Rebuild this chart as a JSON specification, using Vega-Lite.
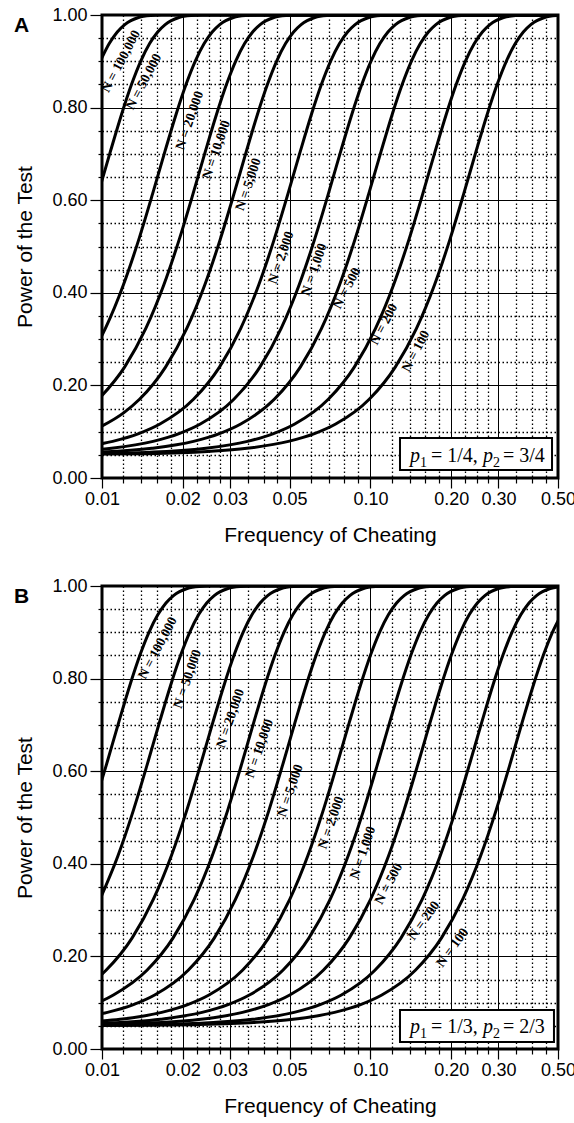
{
"$schema": "https://vega.github.io/schema/vega-lite/v6.json",
"autosize": {"type": "pad"},
"padding": {"left": 12, "top": 4, "right": 0, "bottom": 0},
"spacing": 108,
"bounds": "flush",
"background": "white",
"datasets": {
"curves": [
{"panel":"A","N":"100000","c":0.00988,"power":0.9015},{"panel":"A","N":"100000","c":0.01064,"power":0.9382},{"panel":"A","N":"100000","c":0.0114,"power":0.9633},{"panel":"A","N":"100000","c":0.01216,"power":0.9793},{"panel":"A","N":"100000","c":0.01368,"power":0.9945},{"panel":"A","N":"100000","c":0.0152,"power":0.9988},{"panel":"A","N":"100000","c":0.01672,"power":0.9998},{"panel":"A","N":"100000","c":0.01824,"power":1},{"panel":"A","N":"100000","c":0.5,"power":1},
{"panel":"A","N":"50000","c":0.009673,"power":0.6141},{"panel":"A","N":"50000","c":0.010748,"power":0.7054},{"panel":"A","N":"50000","c":0.011823,"power":0.7852},{"panel":"A","N":"50000","c":0.012898,"power":0.8508},{"panel":"A","N":"50000","c":0.013973,"power":0.9015},{"panel":"A","N":"50000","c":0.015047,"power":0.9382},{"panel":"A","N":"50000","c":0.016122,"power":0.9633},{"panel":"A","N":"50000","c":0.017197,"power":0.9793},{"panel":"A","N":"50000","c":0.019347,"power":0.9945},{"panel":"A","N":"50000","c":0.021496,"power":0.9988},{"panel":"A","N":"50000","c":0.023646,"power":0.9998},{"panel":"A","N":"50000","c":0.025795,"power":1},{"panel":"A","N":"50000","c":0.5,"power":1},
{"panel":"A","N":"20000","c":0.008579,"power":0.2396},{"panel":"A","N":"20000","c":0.010295,"power":0.3231},{"panel":"A","N":"20000","c":0.012011,"power":0.4169},{"panel":"A","N":"20000","c":0.013727,"power":0.516},{"panel":"A","N":"20000","c":0.015443,"power":0.6141},{"panel":"A","N":"20000","c":0.017159,"power":0.7054},{"panel":"A","N":"20000","c":0.018874,"power":0.7852},{"panel":"A","N":"20000","c":0.02059,"power":0.8508},{"panel":"A","N":"20000","c":0.022306,"power":0.9015},{"panel":"A","N":"20000","c":0.024022,"power":0.9382},{"panel":"A","N":"20000","c":0.025738,"power":0.9633},{"panel":"A","N":"20000","c":0.027454,"power":0.9793},{"panel":"A","N":"20000","c":0.030885,"power":0.9945},{"panel":"A","N":"20000","c":0.034317,"power":0.9988},{"panel":"A","N":"20000","c":0.037749,"power":0.9998},{"panel":"A","N":"20000","c":0.04118,"power":1},{"panel":"A","N":"20000","c":0.5,"power":1},
{"panel":"A","N":"10000","c":0.009709,"power":0.17},{"panel":"A","N":"10000","c":0.012136,"power":0.2396},{"panel":"A","N":"10000","c":0.014563,"power":0.3231},{"panel":"A","N":"10000","c":0.01699,"power":0.4169},{"panel":"A","N":"10000","c":0.019417,"power":0.516},{"panel":"A","N":"10000","c":0.021845,"power":0.6141},{"panel":"A","N":"10000","c":0.024272,"power":0.7054},{"panel":"A","N":"10000","c":0.026699,"power":0.7852},{"panel":"A","N":"10000","c":0.029126,"power":0.8508},{"panel":"A","N":"10000","c":0.031553,"power":0.9015},{"panel":"A","N":"10000","c":0.033981,"power":0.9382},{"panel":"A","N":"10000","c":0.036408,"power":0.9633},{"panel":"A","N":"10000","c":0.038835,"power":0.9793},{"panel":"A","N":"10000","c":0.043689,"power":0.9945},{"panel":"A","N":"10000","c":0.048544,"power":0.9988},{"panel":"A","N":"10000","c":0.053398,"power":0.9998},{"panel":"A","N":"10000","c":0.058252,"power":1},{"panel":"A","N":"10000","c":0.5,"power":1},
{"panel":"A","N":"5000","c":0.009658,"power":0.1077},{"panel":"A","N":"5000","c":0.012072,"power":0.1413},{"panel":"A","N":"5000","c":0.013797,"power":0.17},{"panel":"A","N":"5000","c":0.017246,"power":0.2396},{"panel":"A","N":"5000","c":0.020695,"power":0.3231},{"panel":"A","N":"5000","c":0.024145,"power":0.4169},{"panel":"A","N":"5000","c":0.027594,"power":0.516},{"panel":"A","N":"5000","c":0.031043,"power":0.6141},{"panel":"A","N":"5000","c":0.034492,"power":0.7054},{"panel":"A","N":"5000","c":0.037942,"power":0.7852},{"panel":"A","N":"5000","c":0.041391,"power":0.8508},{"panel":"A","N":"5000","c":0.04484,"power":0.9015},{"panel":"A","N":"5000","c":0.048289,"power":0.9382},{"panel":"A","N":"5000","c":0.051738,"power":0.9633},{"panel":"A","N":"5000","c":0.055188,"power":0.9793},{"panel":"A","N":"5000","c":0.062086,"power":0.9945},{"panel":"A","N":"5000","c":0.068985,"power":0.9988},{"panel":"A","N":"5000","c":0.075883,"power":0.9998},{"panel":"A","N":"5000","c":0.082781,"power":1},{"panel":"A","N":"5000","c":0.5,"power":1},
{"panel":"A","N":"2000","c":0.008768,"power":0.0685},{"panel":"A","N":"2000","c":0.01096,"power":0.0791},{"panel":"A","N":"2000","c":0.0137,"power":0.0958},{"panel":"A","N":"2000","c":0.01644,"power":0.1165},{"panel":"A","N":"2000","c":0.02192,"power":0.17},{"panel":"A","N":"2000","c":0.0274,"power":0.2396},{"panel":"A","N":"2000","c":0.03288,"power":0.3231},{"panel":"A","N":"2000","c":0.03836,"power":0.4169},{"panel":"A","N":"2000","c":0.04384,"power":0.516},{"panel":"A","N":"2000","c":0.04932,"power":0.6141},{"panel":"A","N":"2000","c":0.0548,"power":0.7054},{"panel":"A","N":"2000","c":0.06028,"power":0.7852},{"panel":"A","N":"2000","c":0.06576,"power":0.8508},{"panel":"A","N":"2000","c":0.07124,"power":0.9015},{"panel":"A","N":"2000","c":0.07672,"power":0.9382},{"panel":"A","N":"2000","c":0.0822,"power":0.9633},{"panel":"A","N":"2000","c":0.08768,"power":0.9793},{"panel":"A","N":"2000","c":0.09864,"power":0.9945},{"panel":"A","N":"2000","c":0.1096,"power":0.9988},{"panel":"A","N":"2000","c":0.12056,"power":0.9998},{"panel":"A","N":"2000","c":0.13152,"power":1},{"panel":"A","N":"2000","c":0.5,"power":1},
{"panel":"A","N":"1000","c":0.00775,"power":0.0572},{"panel":"A","N":"1000","c":0.010849,"power":0.0641},{"panel":"A","N":"1000","c":0.0155,"power":0.0791},{"panel":"A","N":"1000","c":0.019374,"power":0.0958},{"panel":"A","N":"1000","c":0.02325,"power":0.1165},{"panel":"A","N":"1000","c":0.031,"power":0.17},{"panel":"A","N":"1000","c":0.03875,"power":0.2396},{"panel":"A","N":"1000","c":0.0465,"power":0.3231},{"panel":"A","N":"1000","c":0.05425,"power":0.4169},{"panel":"A","N":"1000","c":0.062,"power":0.516},{"panel":"A","N":"1000","c":0.06975,"power":0.6141},{"panel":"A","N":"1000","c":0.0775,"power":0.7054},{"panel":"A","N":"1000","c":0.08525,"power":0.7852},{"panel":"A","N":"1000","c":0.093,"power":0.8508},{"panel":"A","N":"1000","c":0.10074,"power":0.9015},{"panel":"A","N":"1000","c":0.10849,"power":0.9382},{"panel":"A","N":"1000","c":0.11624,"power":0.9633},{"panel":"A","N":"1000","c":0.12399,"power":0.9793},{"panel":"A","N":"1000","c":0.13949,"power":0.9945},{"panel":"A","N":"1000","c":0.15499,"power":0.9988},{"panel":"A","N":"1000","c":0.17049,"power":0.9998},{"panel":"A","N":"1000","c":0.18599,"power":1},{"panel":"A","N":"1000","c":0.5,"power":1},
{"panel":"A","N":"500","c":0.008768,"power":0.0546},{"panel":"A","N":"500","c":0.015344,"power":0.0641},{"panel":"A","N":"500","c":0.02192,"power":0.0791},{"panel":"A","N":"500","c":0.0274,"power":0.0958},{"panel":"A","N":"500","c":0.03288,"power":0.1165},{"panel":"A","N":"500","c":0.04384,"power":0.17},{"panel":"A","N":"500","c":0.0548,"power":0.2396},{"panel":"A","N":"500","c":0.06576,"power":0.3231},{"panel":"A","N":"500","c":0.07672,"power":0.4169},{"panel":"A","N":"500","c":0.08768,"power":0.516},{"panel":"A","N":"500","c":0.09864,"power":0.6141},{"panel":"A","N":"500","c":0.1096,"power":0.7054},{"panel":"A","N":"500","c":0.12056,"power":0.7852},{"panel":"A","N":"500","c":0.13152,"power":0.8508},{"panel":"A","N":"500","c":0.14248,"power":0.9015},{"panel":"A","N":"500","c":0.15344,"power":0.9382},{"panel":"A","N":"500","c":0.1644,"power":0.9633},{"panel":"A","N":"500","c":0.17536,"power":0.9793},{"panel":"A","N":"500","c":0.19728,"power":0.9945},{"panel":"A","N":"500","c":0.2192,"power":0.9988},{"panel":"A","N":"500","c":0.24112,"power":0.9998},{"panel":"A","N":"500","c":0.26304,"power":1},{"panel":"A","N":"500","c":0.5,"power":1},
{"panel":"A","N":"200","c":0.006969,"power":0.0511},{"panel":"A","N":"200","c":0.017422,"power":0.0572},{"panel":"A","N":"200","c":0.02439,"power":0.0641},{"panel":"A","N":"200","c":0.034843,"power":0.0791},{"panel":"A","N":"200","c":0.043554,"power":0.0958},{"panel":"A","N":"200","c":0.052265,"power":0.1165},{"panel":"A","N":"200","c":0.069686,"power":0.17},{"panel":"A","N":"200","c":0.087108,"power":0.2396},{"panel":"A","N":"200","c":0.10453,"power":0.3231},{"panel":"A","N":"200","c":0.12195,"power":0.4169},{"panel":"A","N":"200","c":0.13937,"power":0.516},{"panel":"A","N":"200","c":0.15679,"power":0.6141},{"panel":"A","N":"200","c":0.17422,"power":0.7054},{"panel":"A","N":"200","c":0.19164,"power":0.7852},{"panel":"A","N":"200","c":0.20906,"power":0.8508},{"panel":"A","N":"200","c":0.22648,"power":0.9015},{"panel":"A","N":"200","c":0.2439,"power":0.9382},{"panel":"A","N":"200","c":0.26132,"power":0.9633},{"panel":"A","N":"200","c":0.27874,"power":0.9793},{"panel":"A","N":"200","c":0.31359,"power":0.9945},{"panel":"A","N":"200","c":0.34843,"power":0.9988},{"panel":"A","N":"200","c":0.38328,"power":0.9998},{"panel":"A","N":"200","c":0.41812,"power":1},{"panel":"A","N":"200","c":0.5,"power":1},
{"panel":"A","N":"100","c":0.00495,"power":0.0503},{"panel":"A","N":"100","c":0.014851,"power":0.0526},{"panel":"A","N":"100","c":0.024752,"power":0.0572},{"panel":"A","N":"100","c":0.034653,"power":0.0641},{"panel":"A","N":"100","c":0.049505,"power":0.0791},{"panel":"A","N":"100","c":0.061881,"power":0.0958},{"panel":"A","N":"100","c":0.074257,"power":0.1165},{"panel":"A","N":"100","c":0.09901,"power":0.17},{"panel":"A","N":"100","c":0.12376,"power":0.2396},{"panel":"A","N":"100","c":0.14851,"power":0.3231},{"panel":"A","N":"100","c":0.17327,"power":0.4169},{"panel":"A","N":"100","c":0.19802,"power":0.516},{"panel":"A","N":"100","c":0.22277,"power":0.6141},{"panel":"A","N":"100","c":0.24752,"power":0.7054},{"panel":"A","N":"100","c":0.27228,"power":0.7852},{"panel":"A","N":"100","c":0.29703,"power":0.8508},{"panel":"A","N":"100","c":0.32178,"power":0.9015},{"panel":"A","N":"100","c":0.34653,"power":0.9382},{"panel":"A","N":"100","c":0.37129,"power":0.9633},{"panel":"A","N":"100","c":0.39604,"power":0.9793},{"panel":"A","N":"100","c":0.44554,"power":0.9945},{"panel":"A","N":"100","c":0.49505,"power":0.9988},{"panel":"A","N":"100","c":0.54455,"power":0.9998},
{"panel":"B","N":"100000","c":0.009234,"power":0.516},{"panel":"B","N":"100000","c":0.010388,"power":0.6141},{"panel":"B","N":"100000","c":0.011542,"power":0.7054},{"panel":"B","N":"100000","c":0.012696,"power":0.7852},{"panel":"B","N":"100000","c":0.01385,"power":0.8508},{"panel":"B","N":"100000","c":0.015005,"power":0.9015},{"panel":"B","N":"100000","c":0.016159,"power":0.9382},{"panel":"B","N":"100000","c":0.017313,"power":0.9633},{"panel":"B","N":"100000","c":0.018467,"power":0.9793},{"panel":"B","N":"100000","c":0.020776,"power":0.9945},{"panel":"B","N":"100000","c":0.023084,"power":0.9988},{"panel":"B","N":"100000","c":0.025392,"power":0.9998},{"panel":"B","N":"100000","c":0.027701,"power":1},{"panel":"B","N":"100000","c":0.5,"power":1},
{"panel":"B","N":"50000","c":0.009823,"power":0.3231},{"panel":"B","N":"50000","c":0.01146,"power":0.4169},{"panel":"B","N":"50000","c":0.013098,"power":0.516},{"panel":"B","N":"50000","c":0.014735,"power":0.6141},{"panel":"B","N":"50000","c":0.016372,"power":0.7054},{"panel":"B","N":"50000","c":0.018009,"power":0.7852},{"panel":"B","N":"50000","c":0.019646,"power":0.8508},{"panel":"B","N":"50000","c":0.021284,"power":0.9015},{"panel":"B","N":"50000","c":0.022921,"power":0.9382},{"panel":"B","N":"50000","c":0.024558,"power":0.9633},{"panel":"B","N":"50000","c":0.026195,"power":0.9793},{"panel":"B","N":"50000","c":0.02947,"power":0.9945},{"panel":"B","N":"50000","c":0.032744,"power":0.9988},{"panel":"B","N":"50000","c":0.036018,"power":0.9998},{"panel":"B","N":"50000","c":0.039293,"power":1},{"panel":"B","N":"50000","c":0.5,"power":1},
{"panel":"B","N":"20000","c":0.007764,"power":0.1165},{"panel":"B","N":"20000","c":0.010352,"power":0.17},{"panel":"B","N":"20000","c":0.01294,"power":0.2396},{"panel":"B","N":"20000","c":0.015528,"power":0.3231},{"panel":"B","N":"20000","c":0.018116,"power":0.4169},{"panel":"B","N":"20000","c":0.020704,"power":0.516},{"panel":"B","N":"20000","c":0.023292,"power":0.6141},{"panel":"B","N":"20000","c":0.02588,"power":0.7054},{"panel":"B","N":"20000","c":0.028468,"power":0.7852},{"panel":"B","N":"20000","c":0.031056,"power":0.8508},{"panel":"B","N":"20000","c":0.033644,"power":0.9015},{"panel":"B","N":"20000","c":0.036232,"power":0.9382},{"panel":"B","N":"20000","c":0.03882,"power":0.9633},{"panel":"B","N":"20000","c":0.041408,"power":0.9793},{"panel":"B","N":"20000","c":0.046584,"power":0.9945},{"panel":"B","N":"20000","c":0.05176,"power":0.9988},{"panel":"B","N":"20000","c":0.056936,"power":0.9998},{"panel":"B","N":"20000","c":0.062112,"power":1},{"panel":"B","N":"20000","c":0.5,"power":1},
{"panel":"B","N":"10000","c":0.007353,"power":0.0791},{"panel":"B","N":"10000","c":0.011029,"power":0.1165},{"panel":"B","N":"10000","c":0.014706,"power":0.17},{"panel":"B","N":"10000","c":0.018382,"power":0.2396},{"panel":"B","N":"10000","c":0.022059,"power":0.3231},{"panel":"B","N":"10000","c":0.025735,"power":0.4169},{"panel":"B","N":"10000","c":0.029412,"power":0.516},{"panel":"B","N":"10000","c":0.033088,"power":0.6141},{"panel":"B","N":"10000","c":0.036765,"power":0.7054},{"panel":"B","N":"10000","c":0.040441,"power":0.7852},{"panel":"B","N":"10000","c":0.044118,"power":0.8508},{"panel":"B","N":"10000","c":0.047794,"power":0.9015},{"panel":"B","N":"10000","c":0.051471,"power":0.9382},{"panel":"B","N":"10000","c":0.055147,"power":0.9633},{"panel":"B","N":"10000","c":0.058824,"power":0.9793},{"panel":"B","N":"10000","c":0.066176,"power":0.9945},{"panel":"B","N":"10000","c":0.073529,"power":0.9988},{"panel":"B","N":"10000","c":0.080882,"power":0.9998},{"panel":"B","N":"10000","c":0.088235,"power":1},{"panel":"B","N":"10000","c":0.5,"power":1},
{"panel":"B","N":"5000","c":0.00838,"power":0.0685},{"panel":"B","N":"5000","c":0.010476,"power":0.0791},{"panel":"B","N":"5000","c":0.013095,"power":0.0958},{"panel":"B","N":"5000","c":0.015713,"power":0.1165},{"panel":"B","N":"5000","c":0.020951,"power":0.17},{"panel":"B","N":"5000","c":0.026189,"power":0.2396},{"panel":"B","N":"5000","c":0.031427,"power":0.3231},{"panel":"B","N":"5000","c":0.036664,"power":0.4169},{"panel":"B","N":"5000","c":0.041902,"power":0.516},{"panel":"B","N":"5000","c":0.04714,"power":0.6141},{"panel":"B","N":"5000","c":0.052378,"power":0.7054},{"panel":"B","N":"5000","c":0.057615,"power":0.7852},{"panel":"B","N":"5000","c":0.062853,"power":0.8508},{"panel":"B","N":"5000","c":0.068091,"power":0.9015},{"panel":"B","N":"5000","c":0.073329,"power":0.9382},{"panel":"B","N":"5000","c":0.078566,"power":0.9633},{"panel":"B","N":"5000","c":0.083804,"power":0.9793},{"panel":"B","N":"5000","c":0.09428,"power":0.9945},{"panel":"B","N":"5000","c":0.10476,"power":0.9988},{"panel":"B","N":"5000","c":0.11523,"power":0.9998},{"panel":"B","N":"5000","c":0.12571,"power":1},{"panel":"B","N":"5000","c":0.5,"power":1},
{"panel":"B","N":"2000","c":0.008344,"power":0.0572},{"panel":"B","N":"2000","c":0.011682,"power":0.0641},{"panel":"B","N":"2000","c":0.016689,"power":0.0791},{"panel":"B","N":"2000","c":0.020861,"power":0.0958},{"panel":"B","N":"2000","c":0.025033,"power":0.1165},{"panel":"B","N":"2000","c":0.033378,"power":0.17},{"panel":"B","N":"2000","c":0.041722,"power":0.2396},{"panel":"B","N":"2000","c":0.050067,"power":0.3231},{"panel":"B","N":"2000","c":0.058411,"power":0.4169},{"panel":"B","N":"2000","c":0.066756,"power":0.516},{"panel":"B","N":"2000","c":0.0751,"power":0.6141},{"panel":"B","N":"2000","c":0.083445,"power":0.7054},{"panel":"B","N":"2000","c":0.091789,"power":0.7852},{"panel":"B","N":"2000","c":0.10013,"power":0.8508},{"panel":"B","N":"2000","c":0.10848,"power":0.9015},{"panel":"B","N":"2000","c":0.11682,"power":0.9382},{"panel":"B","N":"2000","c":0.12517,"power":0.9633},{"panel":"B","N":"2000","c":0.13351,"power":0.9793},{"panel":"B","N":"2000","c":0.1502,"power":0.9945},{"panel":"B","N":"2000","c":0.16689,"power":0.9988},{"panel":"B","N":"2000","c":0.18358,"power":0.9998},{"panel":"B","N":"2000","c":0.20027,"power":1},{"panel":"B","N":"2000","c":0.5,"power":1},
{"panel":"B","N":"1000","c":0.009438,"power":0.0546},{"panel":"B","N":"1000","c":0.016517,"power":0.0641},{"panel":"B","N":"1000","c":0.023596,"power":0.0791},{"panel":"B","N":"1000","c":0.029495,"power":0.0958},{"panel":"B","N":"1000","c":0.035394,"power":0.1165},{"panel":"B","N":"1000","c":0.047192,"power":0.17},{"panel":"B","N":"1000","c":0.05899,"power":0.2396},{"panel":"B","N":"1000","c":0.070788,"power":0.3231},{"panel":"B","N":"1000","c":0.082586,"power":0.4169},{"panel":"B","N":"1000","c":0.094384,"power":0.516},{"panel":"B","N":"1000","c":0.10618,"power":0.6141},{"panel":"B","N":"1000","c":0.11798,"power":0.7054},{"panel":"B","N":"1000","c":0.12978,"power":0.7852},{"panel":"B","N":"1000","c":0.14158,"power":0.8508},{"panel":"B","N":"1000","c":0.15337,"power":0.9015},{"panel":"B","N":"1000","c":0.16517,"power":0.9382},{"panel":"B","N":"1000","c":0.17697,"power":0.9633},{"panel":"B","N":"1000","c":0.18877,"power":0.9793},{"panel":"B","N":"1000","c":0.21236,"power":0.9945},{"panel":"B","N":"1000","c":0.23596,"power":0.9988},{"panel":"B","N":"1000","c":0.25956,"power":0.9998},{"panel":"B","N":"1000","c":0.28315,"power":1},{"panel":"B","N":"1000","c":0.5,"power":1},
{"panel":"B","N":"500","c":0.006676,"power":0.0511},{"panel":"B","N":"500","c":0.016689,"power":0.0572},{"panel":"B","N":"500","c":0.023365,"power":0.0641},{"panel":"B","N":"500","c":0.033378,"power":0.0791},{"panel":"B","N":"500","c":0.041722,"power":0.0958},{"panel":"B","N":"500","c":0.050067,"power":0.1165},{"panel":"B","N":"500","c":0.066756,"power":0.17},{"panel":"B","N":"500","c":0.083445,"power":0.2396},{"panel":"B","N":"500","c":0.10013,"power":0.3231},{"panel":"B","N":"500","c":0.11682,"power":0.4169},{"panel":"B","N":"500","c":0.13351,"power":0.516},{"panel":"B","N":"500","c":0.1502,"power":0.6141},{"panel":"B","N":"500","c":0.16689,"power":0.7054},{"panel":"B","N":"500","c":0.18358,"power":0.7852},{"panel":"B","N":"500","c":0.20027,"power":0.8508},{"panel":"B","N":"500","c":0.21696,"power":0.9015},{"panel":"B","N":"500","c":0.23365,"power":0.9382},{"panel":"B","N":"500","c":0.25033,"power":0.9633},{"panel":"B","N":"500","c":0.26702,"power":0.9793},{"panel":"B","N":"500","c":0.3004,"power":0.9945},{"panel":"B","N":"500","c":0.33378,"power":0.9988},{"panel":"B","N":"500","c":0.36716,"power":0.9998},{"panel":"B","N":"500","c":0.40053,"power":1},{"panel":"B","N":"500","c":0.5,"power":1},
{"panel":"B","N":"200","c":0.005198,"power":0.0503},{"panel":"B","N":"200","c":0.015593,"power":0.0526},{"panel":"B","N":"200","c":0.025988,"power":0.0572},{"panel":"B","N":"200","c":0.036383,"power":0.0641},{"panel":"B","N":"200","c":0.051975,"power":0.0791},{"panel":"B","N":"200","c":0.064969,"power":0.0958},{"panel":"B","N":"200","c":0.077963,"power":0.1165},{"panel":"B","N":"200","c":0.10395,"power":0.17},{"panel":"B","N":"200","c":0.12994,"power":0.2396},{"panel":"B","N":"200","c":0.15593,"power":0.3231},{"panel":"B","N":"200","c":0.18191,"power":0.4169},{"panel":"B","N":"200","c":0.2079,"power":0.516},{"panel":"B","N":"200","c":0.23389,"power":0.6141},{"panel":"B","N":"200","c":0.25988,"power":0.7054},{"panel":"B","N":"200","c":0.28586,"power":0.7852},{"panel":"B","N":"200","c":0.31185,"power":0.8508},{"panel":"B","N":"200","c":0.33784,"power":0.9015},{"panel":"B","N":"200","c":0.36383,"power":0.9382},{"panel":"B","N":"200","c":0.38981,"power":0.9633},{"panel":"B","N":"200","c":0.4158,"power":0.9793},{"panel":"B","N":"200","c":0.46778,"power":0.9945},{"panel":"B","N":"200","c":0.51975,"power":0.9988},
{"panel":"B","N":"100","c":0.007353,"power":0.0503},{"panel":"B","N":"100","c":0.014706,"power":0.0511},{"panel":"B","N":"100","c":0.022059,"power":0.0526},{"panel":"B","N":"100","c":0.036765,"power":0.0572},{"panel":"B","N":"100","c":0.051471,"power":0.0641},{"panel":"B","N":"100","c":0.073529,"power":0.0791},{"panel":"B","N":"100","c":0.091912,"power":0.0958},{"panel":"B","N":"100","c":0.11029,"power":0.1165},{"panel":"B","N":"100","c":0.14706,"power":0.17},{"panel":"B","N":"100","c":0.18382,"power":0.2396},{"panel":"B","N":"100","c":0.22059,"power":0.3231},{"panel":"B","N":"100","c":0.25735,"power":0.4169},{"panel":"B","N":"100","c":0.29412,"power":0.516},{"panel":"B","N":"100","c":0.33088,"power":0.6141},{"panel":"B","N":"100","c":0.36765,"power":0.7054},{"panel":"B","N":"100","c":0.40441,"power":0.7852},{"panel":"B","N":"100","c":0.44118,"power":0.8508},{"panel":"B","N":"100","c":0.47794,"power":0.9015},{"panel":"B","N":"100","c":0.51471,"power":0.9382}
],
"labels": [
{"panel":"A","label":"N = 100,000","c":0.01176,"power":0.9},
{"panel":"A","label":"N = 50,000","c":0.01432,"power":0.856},
{"panel":"A","label":"N = 20,000","c":0.0212,"power":0.772},
{"panel":"A","label":"N = 10,000","c":0.0267,"power":0.709},
{"panel":"A","label":"N = 5,000","c":0.0351,"power":0.634},
{"panel":"A","label":"N = 2,000","c":0.0465,"power":0.476},
{"panel":"A","label":"N = 1,000","c":0.0617,"power":0.45},
{"panel":"A","label":"N = 500","c":0.0817,"power":0.41},
{"panel":"A","label":"N = 200","c":0.1122,"power":0.332},
{"panel":"A","label":"N = 100","c":0.1476,"power":0.274},
{"panel":"B","label":"N = 100,000","c":0.01613,"power":0.866},
{"panel":"B","label":"N = 50,000","c":0.0208,"power":0.799},
{"panel":"B","label":"N = 20,000","c":0.0301,"power":0.714},
{"panel":"B","label":"N = 10,000","c":0.0386,"power":0.649},
{"panel":"B","label":"N = 5,000","c":0.0503,"power":0.558},
{"panel":"B","label":"N = 2,000","c":0.0714,"power":0.489},
{"panel":"B","label":"N = 1,000","c":0.0937,"power":0.424},
{"panel":"B","label":"N = 500","c":0.117,"power":0.357},
{"panel":"B","label":"N = 200","c":0.158,"power":0.277},
{"panel":"B","label":"N = 100","c":0.202,"power":0.219}
],
"legend": [
{"panel":"A","part":"p","c":0.1405,"power":0.035,"t":"p"},
{"panel":"A","part":"sub","c":0.1531,"power":0.035,"t":"1"},
{"panel":"A","part":"rest","c":0.1682,"power":0.035,"t":"= 1/4,"},
{"panel":"A","part":"p","c":0.2628,"power":0.035,"t":"p"},
{"panel":"A","part":"sub","c":0.2863,"power":0.035,"t":"2"},
{"panel":"A","part":"rest","c":0.312,"power":0.035,"t":"= 3/4"},
{"panel":"B","part":"p","c":0.1405,"power":0.035,"t":"p"},
{"panel":"B","part":"sub","c":0.1531,"power":0.035,"t":"1"},
{"panel":"B","part":"rest","c":0.1682,"power":0.035,"t":"= 1/3,"},
{"panel":"B","part":"p","c":0.2628,"power":0.035,"t":"p"},
{"panel":"B","part":"sub","c":0.2863,"power":0.035,"t":"2"},
{"panel":"B","part":"rest","c":0.312,"power":0.035,"t":"= 2/3"}
],
"boxes": [
{"panel":"A","c":0.1289,"c2":0.475,"power":0.0172,"power2":0.0862},
{"panel":"B","c":0.1289,"c2":0.483,"power":0.015,"power2":0.0844}
],
"letters": [
{"panel":"A","t":"A","c":0.01,"power":1},
{"panel":"B","t":"B","c":0.01,"power":1}
]
},
"vconcat": [
{
"width": 456, "height": 463,
"encoding": {
  "x": {"field": "c", "type": "quantitative", "scale": {"type": "log", "domain": [0.01, 0.5], "nice": false},
   "axis": {"values": [0.01,0.012,0.014,0.016,0.018,0.02,0.0225,0.025,0.0275,0.03,0.035,0.04,0.045,0.05,0.06,0.07,0.08,0.09,0.1,0.12,0.14,0.16,0.18,0.2,0.225,0.25,0.275,0.3,0.35,0.4,0.45,0.5],
    "labelExpr": "indexof([0.01,0.02,0.03,0.05,0.1,0.2,0.3,0.5], datum.value) >= 0 ? format(datum.value, '.2f') : ''",
    "title": "Frequency of Cheating", "grid": true, "tickSize": 10,
    "gridDash": {"condition": {"test": "indexof([0.01,0.02,0.03,0.05,0.1,0.2,0.3,0.5], datum.value) < 0", "value": [1.5, 2.5]}, "value": []},
    "gridWidth": {"condition": {"test": "indexof([0.01,0.02,0.03,0.05,0.1,0.2,0.3,0.5], datum.value) < 0", "value": 1.3}, "value": 1},
    "tickDash": {"condition": {"test": "indexof([0.01,0.02,0.03,0.05,0.1,0.2,0.3,0.5], datum.value) < 0", "value": [5, 30]}, "value": []},
    "labelPadding": 2, "titlePadding": 16}},
  "y": {"field": "power", "type": "quantitative", "scale": {"domain": [0, 1], "nice": false},
   "axis": {"values": [0,0.05,0.1,0.15,0.2,0.25,0.3,0.35,0.4,0.45,0.5,0.55,0.6,0.65,0.7,0.75,0.8,0.85,0.9,0.95,1],
    "labelExpr": "abs(datum.value*5 - round(datum.value*5)) < 0.001 ? format(datum.value, '.2f') : ''",
    "title": "Power of the Test", "grid": true, "tickSize": 12,
    "gridDash": {"condition": {"test": "abs(datum.value*5 - round(datum.value*5)) > 0.001", "value": [1.5, 2.5]}, "value": []},
    "gridWidth": {"condition": {"test": "abs(datum.value*5 - round(datum.value*5)) > 0.001", "value": 1.3}, "value": 1},
    "tickDash": {"condition": {"test": "abs(datum.value*5 - round(datum.value*5)) > 0.001", "value": [4, 30]}, "value": []},
    "labelPadding": 3, "titlePadding": 16}}
},
"layer": [
{"data": {"name": "curves"}, "transform": [{"filter": "datum.panel === 'A'"}],
 "mark": {"type": "line", "interpolate": "monotone", "clip": true, "stroke": "black", "strokeWidth": 3},
 "encoding": {"detail": {"field": "N"}}},
{"data": {"name": "labels"}, "transform": [{"filter": "datum.panel === 'A' && indexof(['N = 20,000','N = 10,000','N = 5,000','N = 2,000','N = 1,000'], datum.label) >= 0"}],
 "mark": {"type": "text", "angle": -71, "font": "Liberation Serif", "fontWeight": "bold", "fontSize": 13.5, "align": "center", "baseline": "middle"},
 "encoding": {"text": {"field": "label"}}},
{"data": {"name": "labels"}, "transform": [{"filter": "datum.panel === 'A' && indexof(['N = 100,000','N = 50,000','N = 500','N = 200','N = 100'], datum.label) >= 0"}],
 "mark": {"type": "text", "angle": -62, "font": "Liberation Serif", "fontWeight": "bold", "fontSize": 13.5, "align": "center", "baseline": "middle"},
 "encoding": {"text": {"field": "label"}}},
{"data": {"name": "boxes"}, "transform": [{"filter": "datum.panel === 'A'"}],
 "mark": {"type": "rect", "fill": "white", "stroke": "black", "strokeWidth": 2},
 "encoding": {"x2": {"field": "c2"}, "y2": {"field": "power2"}}},
{"data": {"name": "legend"}, "transform": [{"filter": "datum.panel === 'A' && datum.part === 'p'"}],
 "mark": {"type": "text", "font": "Liberation Serif", "fontStyle": "italic", "fontSize": 20, "align": "left", "baseline": "alphabetic"},
 "encoding": {"text": {"field": "t"}}},
{"data": {"name": "legend"}, "transform": [{"filter": "datum.panel === 'A' && datum.part === 'sub'"}],
 "mark": {"type": "text", "font": "Liberation Serif", "fontSize": 14, "align": "left", "baseline": "alphabetic", "dy": 5},
 "encoding": {"text": {"field": "t"}}},
{"data": {"name": "legend"}, "transform": [{"filter": "datum.panel === 'A' && datum.part === 'rest'"}],
 "mark": {"type": "text", "font": "Liberation Serif", "fontSize": 20, "align": "left", "baseline": "alphabetic"},
 "encoding": {"text": {"field": "t"}}},
{"data": {"name": "letters"}, "transform": [{"filter": "datum.panel === 'A'"}],
 "mark": {"type": "text", "font": "Liberation Sans", "fontWeight": "bold", "fontSize": 21, "align": "left", "baseline": "alphabetic", "dx": -88, "dy": 17},
 "encoding": {"text": {"field": "t"}}}
]
},
{
"width": 456, "height": 463,
"encoding": {
  "x": {"field": "c", "type": "quantitative", "scale": {"type": "log", "domain": [0.01, 0.5], "nice": false},
   "axis": {"values": [0.01,0.012,0.014,0.016,0.018,0.02,0.0225,0.025,0.0275,0.03,0.035,0.04,0.045,0.05,0.06,0.07,0.08,0.09,0.1,0.12,0.14,0.16,0.18,0.2,0.225,0.25,0.275,0.3,0.35,0.4,0.45,0.5],
    "labelExpr": "indexof([0.01,0.02,0.03,0.05,0.1,0.2,0.3,0.5], datum.value) >= 0 ? format(datum.value, '.2f') : ''",
    "title": "Frequency of Cheating", "grid": true, "tickSize": 10,
    "gridDash": {"condition": {"test": "indexof([0.01,0.02,0.03,0.05,0.1,0.2,0.3,0.5], datum.value) < 0", "value": [1.5, 2.5]}, "value": []},
    "gridWidth": {"condition": {"test": "indexof([0.01,0.02,0.03,0.05,0.1,0.2,0.3,0.5], datum.value) < 0", "value": 1.3}, "value": 1},
    "tickDash": {"condition": {"test": "indexof([0.01,0.02,0.03,0.05,0.1,0.2,0.3,0.5], datum.value) < 0", "value": [5, 30]}, "value": []},
    "labelPadding": 2, "titlePadding": 16}},
  "y": {"field": "power", "type": "quantitative", "scale": {"domain": [0, 1], "nice": false},
   "axis": {"values": [0,0.05,0.1,0.15,0.2,0.25,0.3,0.35,0.4,0.45,0.5,0.55,0.6,0.65,0.7,0.75,0.8,0.85,0.9,0.95,1],
    "labelExpr": "abs(datum.value*5 - round(datum.value*5)) < 0.001 ? format(datum.value, '.2f') : ''",
    "title": "Power of the Test", "grid": true, "tickSize": 12,
    "gridDash": {"condition": {"test": "abs(datum.value*5 - round(datum.value*5)) > 0.001", "value": [1.5, 2.5]}, "value": []},
    "gridWidth": {"condition": {"test": "abs(datum.value*5 - round(datum.value*5)) > 0.001", "value": 1.3}, "value": 1},
    "tickDash": {"condition": {"test": "abs(datum.value*5 - round(datum.value*5)) > 0.001", "value": [4, 30]}, "value": []},
    "labelPadding": 3, "titlePadding": 16}}
},
"layer": [
{"data": {"name": "curves"}, "transform": [{"filter": "datum.panel === 'B'"}],
 "mark": {"type": "line", "interpolate": "monotone", "clip": true, "stroke": "black", "strokeWidth": 3},
 "encoding": {"detail": {"field": "N"}}},
{"data": {"name": "labels"}, "transform": [{"filter": "datum.panel === 'B' && indexof(['N = 50,000','N = 20,000','N = 10,000','N = 5,000','N = 2,000','N = 1,000'], datum.label) >= 0"}],
 "mark": {"type": "text", "angle": -71, "font": "Liberation Serif", "fontWeight": "bold", "fontSize": 13.5, "align": "center", "baseline": "middle"},
 "encoding": {"text": {"field": "label"}}},
{"data": {"name": "labels"}, "transform": [{"filter": "datum.panel === 'B' && indexof(['N = 100,000','N = 500'], datum.label) >= 0"}],
 "mark": {"type": "text", "angle": -62, "font": "Liberation Serif", "fontWeight": "bold", "fontSize": 13.5, "align": "center", "baseline": "middle"},
 "encoding": {"text": {"field": "label"}}},
{"data": {"name": "labels"}, "transform": [{"filter": "datum.panel === 'B' && indexof(['N = 200','N = 100'], datum.label) >= 0"}],
 "mark": {"type": "text", "angle": -54, "font": "Liberation Serif", "fontWeight": "bold", "fontSize": 13.5, "align": "center", "baseline": "middle"},
 "encoding": {"text": {"field": "label"}}},
{"data": {"name": "boxes"}, "transform": [{"filter": "datum.panel === 'B'"}],
 "mark": {"type": "rect", "fill": "white", "stroke": "black", "strokeWidth": 2},
 "encoding": {"x2": {"field": "c2"}, "y2": {"field": "power2"}}},
{"data": {"name": "legend"}, "transform": [{"filter": "datum.panel === 'B' && datum.part === 'p'"}],
 "mark": {"type": "text", "font": "Liberation Serif", "fontStyle": "italic", "fontSize": 20, "align": "left", "baseline": "alphabetic"},
 "encoding": {"text": {"field": "t"}}},
{"data": {"name": "legend"}, "transform": [{"filter": "datum.panel === 'B' && datum.part === 'sub'"}],
 "mark": {"type": "text", "font": "Liberation Serif", "fontSize": 14, "align": "left", "baseline": "alphabetic", "dy": 5},
 "encoding": {"text": {"field": "t"}}},
{"data": {"name": "legend"}, "transform": [{"filter": "datum.panel === 'B' && datum.part === 'rest'"}],
 "mark": {"type": "text", "font": "Liberation Serif", "fontSize": 20, "align": "left", "baseline": "alphabetic"},
 "encoding": {"text": {"field": "t"}}},
{"data": {"name": "letters"}, "transform": [{"filter": "datum.panel === 'B'"}],
 "mark": {"type": "text", "font": "Liberation Sans", "fontWeight": "bold", "fontSize": 21, "align": "left", "baseline": "alphabetic", "dx": -88, "dy": 17},
 "encoding": {"text": {"field": "t"}}}
]
}
],
"config": {
 "view": {"stroke": "black", "strokeWidth": 3},
 "axis": {"domain": false, "labelFont": "Liberation Sans", "labelFontSize": 18, "labelColor": "black", "labelOverlap": false, "labelFlush": false, "labelBound": false,
  "titleFont": "Liberation Sans", "titleFontSize": 21, "titleFontWeight": "normal", "titleColor": "black",
  "tickColor": "black", "tickWidth": 1.2, "gridColor": "black", "gridOpacity": 1}
}
}
